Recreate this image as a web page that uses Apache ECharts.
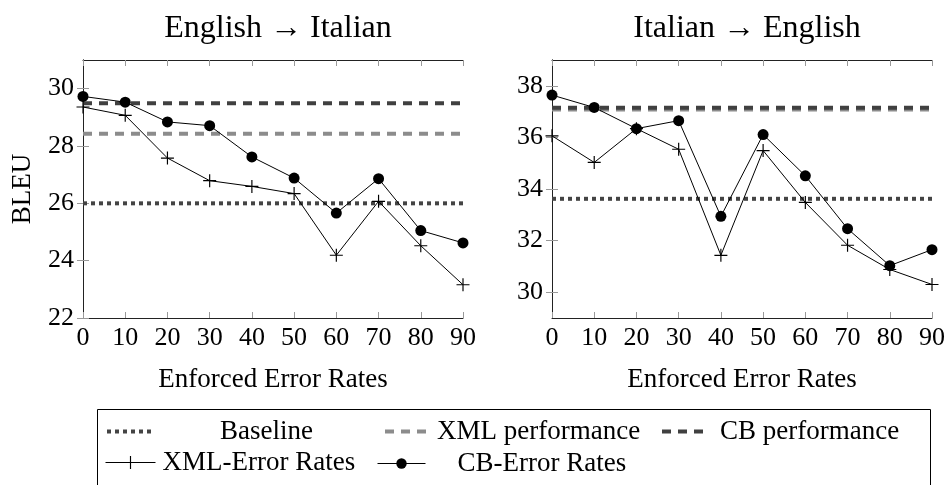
<!DOCTYPE html>
<html>
<head>
<meta charset="utf-8">
<script src="https://cdn.jsdelivr.net/npm/echarts@6/dist/echarts.min.js"></script>
<style>
html,body{margin:0;padding:0;background:#fff;}
#chart{width:946px;height:485px;}
</style>
</head>
<body>
<div id="chart"></div>
<script>
// ---- data ----
const errorRates = [0, 10, 20, 30, 40, 50, 60, 70, 80, 90];
const xTicks = [0, 10, 20, 30, 40, 50, 60, 70, 80, 90];

// English -> Italian
const enItXmlErr = [29.36, 29.07, 27.58, 26.79, 26.59, 26.34, 24.19, 26.07, 24.52, 23.16];
const enItCbErr  = [29.73, 29.53, 28.84, 28.71, 27.62, 26.88, 25.66, 26.86, 25.05, 24.62];
const enItBaseline = 26.0;
const enItXmlPerf = 28.43;
const enItCbPerf = 29.49;
const yTicksEnIt = [22, 24, 26, 28, 30];

// Italian -> English
const itEnXmlErr = [36.06, 35.03, 36.34, 35.54, 31.43, 35.49, 33.48, 31.82, 30.88, 30.30];
const itEnCbErr  = [37.64, 37.16, 36.34, 36.65, 32.94, 36.11, 34.51, 32.46, 31.03, 31.65];
const itEnBaseline = 33.62;
const itEnXmlPerf = 37.08;
const itEnCbPerf = 37.15;
const yTicksItEn = [30, 32, 34, 36, 38];

const titles = ['English \u2192 Italian', 'Italian \u2192 English'];

// ---- helpers ----
const FONT = 'Liberation Serif';
const pts = (xs, ys) => xs.map((x, i) => [x, ys[i]]);
const flat = (v) => [[errorRates[0], v], [errorRates[errorRates.length - 1], v]];
const PLUS = 'path://M0,4.55H10V5.45H0Z M4.55,0H5.45V10H4.55Z';

function refSeries(name, value, axis, color, dash) {
  return {
    name, type: 'line', xAxisIndex: axis, yAxisIndex: axis,
    data: flat(value), symbol: 'none', silent: true,
    lineStyle: { color, width: 4, type: dash, cap: 'butt' },
    itemStyle: { color }
  };
}
function dataSeries(name, ys, axis, symbol, size) {
  return {
    name, type: 'line', xAxisIndex: axis, yAxisIndex: axis,
    data: pts(errorRates, ys), symbol, symbolSize: size, symbolKeepAspect: true,
    showAllSymbol: true, z: 5,
    lineStyle: { color: '#000', width: 1 },
    itemStyle: { color: '#000' }
  };
}

const grids = [
  { left: 83, top: 60, width: 380, height: 258 },
  { left: 552, top: 60, width: 380, height: 258 }
];

function xAxes(gi) {
  const base = {
    type: 'value', gridIndex: gi, min: 0, max: 90,
    axisLine: { show: true, lineStyle: { color: '#222', width: 1 } },
    splitLine: { show: false },
    axisTick: { show: true, inside: true, length: 6, customValues: xTicks, lineStyle: { color: '#999' } }
  };
  return [
    Object.assign({}, base, {
      position: 'bottom',
      axisLabel: { show: true, customValues: xTicks, margin: 7, fontFamily: FONT, fontSize: 26, color: '#000' },
      name: 'Enforced Error Rates', nameLocation: 'middle', nameGap: 48,
      nameTextStyle: { fontFamily: FONT, fontSize: 27, color: '#000' }
    }),
    Object.assign({}, base, { position: 'top', axisLabel: { show: false } })
  ];
}
function yAxes(gi, min, max, ticks, name) {
  const base = {
    type: 'value', gridIndex: gi, min, max,
    axisLine: { show: true, lineStyle: { color: '#222', width: 1 } },
    splitLine: { show: false },
    axisTick: { show: true, inside: true, length: 6, customValues: ticks, lineStyle: { color: '#999' } }
  };
  const left = Object.assign({}, base, {
    position: 'left',
    axisLabel: { show: true, customValues: ticks, margin: 9, fontFamily: FONT, fontSize: 26, color: '#000' }
  });
  if (name) {
    Object.assign(left, {
      name, nameLocation: 'middle', nameGap: 47, nameRotate: 90,
      nameTextStyle: { fontFamily: FONT, fontSize: 27, color: '#000' }
    });
  }
  return [left, Object.assign({}, base, { position: 'right', axisLabel: { show: false } })];
}

const DOT = [4, 4];
const DASH = [9, 7];
const series = [
  refSeries('Baseline', enItBaseline, 0, '#444', DOT),
  refSeries('XML performance', enItXmlPerf, 0, '#8c8c8c', DASH),
  refSeries('CB performance', enItCbPerf, 0, '#404040', DASH),
  dataSeries('XML-Error Rates', enItXmlErr, 0, PLUS, 13),
  dataSeries('CB-Error Rates', enItCbErr, 0, 'circle', 11),
  refSeries('Baseline', itEnBaseline, 2, '#444', DOT),
  refSeries('XML performance', itEnXmlPerf, 2, '#8c8c8c', DASH),
  refSeries('CB performance', itEnCbPerf, 2, '#404040', DASH),
  dataSeries('XML-Error Rates', itEnXmlErr, 2, PLUS, 13),
  dataSeries('CB-Error Rates', itEnCbErr, 2, 'circle', 11)
];

function legendItem(name, left, top, iconW, iconH, padLeft, isRef) {
  const l = {
    data: [name], left, top, orient: 'horizontal',
    itemWidth: iconW, itemHeight: iconH, itemGap: 0, padding: 0,
    selectedMode: false,
    lineStyle: { width: isRef ? 4 : 1 },
    textStyle: { fontFamily: FONT, fontSize: 27, color: '#000', padding: [0, 0, 0, padLeft] }
  };
  if (isRef) l.itemStyle = { opacity: 0 };
  return l;
}

const option = {
  animation: false,
  backgroundColor: '#fff',
  title: [
    { text: titles[0], left: 273, top: 8, textAlign: 'center',
      textStyle: { fontFamily: FONT, fontSize: 32, fontWeight: 'normal', color: '#000' } },
    { text: titles[1], left: 742, top: 8, textAlign: 'center',
      textStyle: { fontFamily: FONT, fontSize: 32, fontWeight: 'normal', color: '#000' } }
  ],
  grid: grids.map(g => Object.assign({ outerBoundsMode: 'none', containLabel: false }, g)),
  xAxis: [].concat(xAxes(0), xAxes(1)),
  yAxis: [].concat(
    yAxes(0, 22, 31, yTicksEnIt, 'BLEU'),
    yAxes(1, 29, 39, yTicksItEn, null)
  ),
  legend: [
    legendItem('Baseline', 105, 418, 45, 12, 63, true),
    legendItem('XML performance', 383, 418, 45, 12, 2, true),
    legendItem('CB performance', 660, 418, 48, 12, 5, true),
    legendItem('XML-Error Rates', 105, 449, 50, 16, 2, false),
    legendItem('CB-Error Rates', 377, 450, 48, 13, 27, false)
  ],
  graphic: [
    { type: 'rect', shape: { x: 97.5, y: 409.5, width: 833, height: 100 },
      style: { fill: 'none', stroke: '#000', lineWidth: 1 }, silent: true }
  ],
  series
};

const chart = echarts.init(document.getElementById('chart'), null, { renderer: 'canvas' });
chart.setOption(option);
</script>
</body>
</html>
